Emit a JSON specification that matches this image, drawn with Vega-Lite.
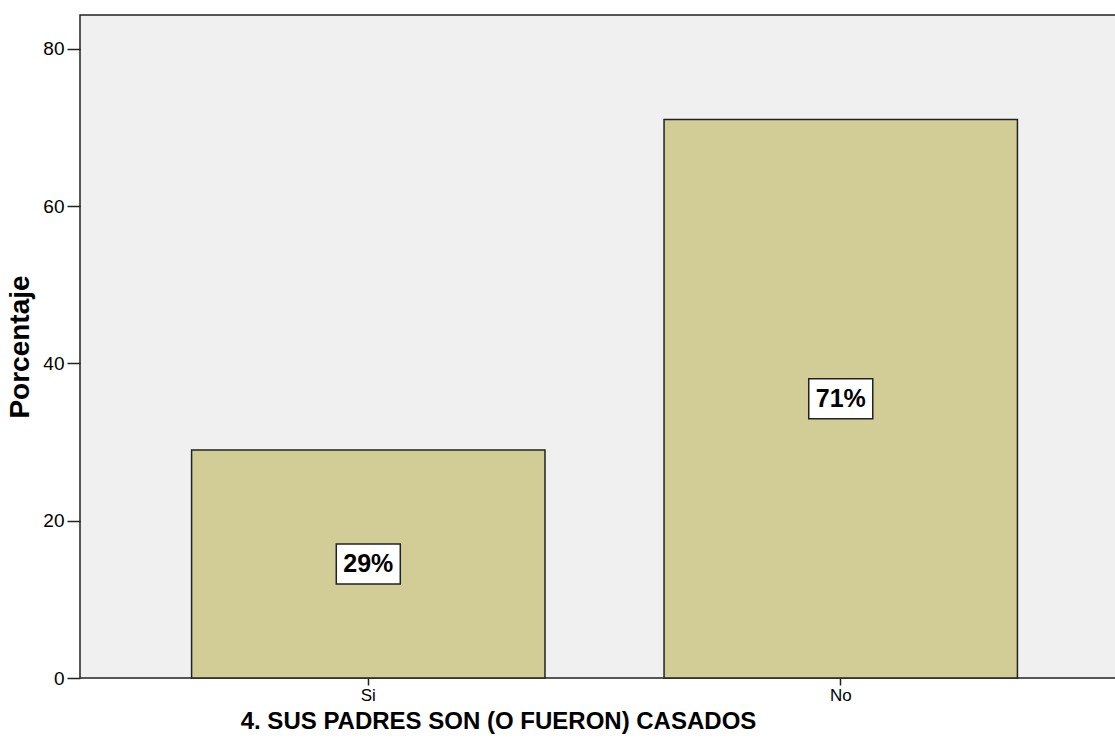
{
  "$schema": "https://vega.github.io/schema/vega-lite/v6.json",
  "autosize": "none",
  "width": 1036,
  "height": 663,
  "padding": {"left": 80, "top": 15, "right": 0, "bottom": 77},
  "background": "#FFFFFF",
  "config": {
    "font": "Liberation Sans",
    "view": {"fill": "#F0F0F0", "stroke": "#222222", "strokeWidth": 1.5},
    "axis": {"labelFont": "Liberation Sans", "titleFont": "Liberation Sans", "labelColor": "#000000", "titleColor": "#000000", "grid": false, "domain": false, "tickColor": "#222222", "tickWidth": 1.5}
  },
  "data": {"values": [
    {"categoria": "Si", "pct": 29, "label": "29%"},
    {"categoria": "No", "pct": 71, "label": "71%"}
  ]},
  "transform": [{"calculate": "datum.pct / 2", "as": "mid"}],
  "encoding": {
    "x": {"field": "categoria", "type": "nominal", "sort": ["Si", "No"],
      "scale": {"paddingInner": 0.252, "paddingOuter": 0.2224, "align": 0.531},
      "axis": {"title": "4. SUS PADRES SON (O FUERON) CASADOS", "labelAngle": 0, "labelFontSize": 17, "tickSize": 7, "labelPadding": 2, "titleFontSize": 24, "titleFontWeight": "bold", "titleX": 418, "titleY": 50, "titleAlign": "center", "titleBaseline": "alphabetic", "titleAnchor": null}}
  },
  "layer": [
    {"mark": {"type": "bar", "fill": "#D2CD97", "stroke": "#222222", "strokeWidth": 1.5},
     "encoding": {"y": {"field": "pct", "type": "quantitative", "scale": {"domain": [0, 84.3], "nice": false},
       "axis": {"title": "Porcentaje", "values": [0, 20, 40, 60, 80], "labelFontSize": 19, "tickSize": 13, "labelPadding": 3, "titleFontSize": 28, "titleFontWeight": "bold", "titlePadding": 8}}}},
    {"mark": {"type": "point", "shape": "M-1,-0.625L1,-0.625L1,0.625L-1,0.625Z", "filled": true, "fill": "#FFFFFF", "stroke": "#222222", "strokeWidth": 1.5, "opacity": 1, "size": 4096},
     "encoding": {"y": {"field": "mid", "type": "quantitative"}}},
    {"mark": {"type": "text", "font": "Liberation Sans", "fontSize": 25, "fontWeight": "bold", "color": "#000000", "baseline": "middle", "align": "center"},
     "encoding": {"y": {"field": "mid", "type": "quantitative"}, "text": {"field": "label"}}}
  ]
}
